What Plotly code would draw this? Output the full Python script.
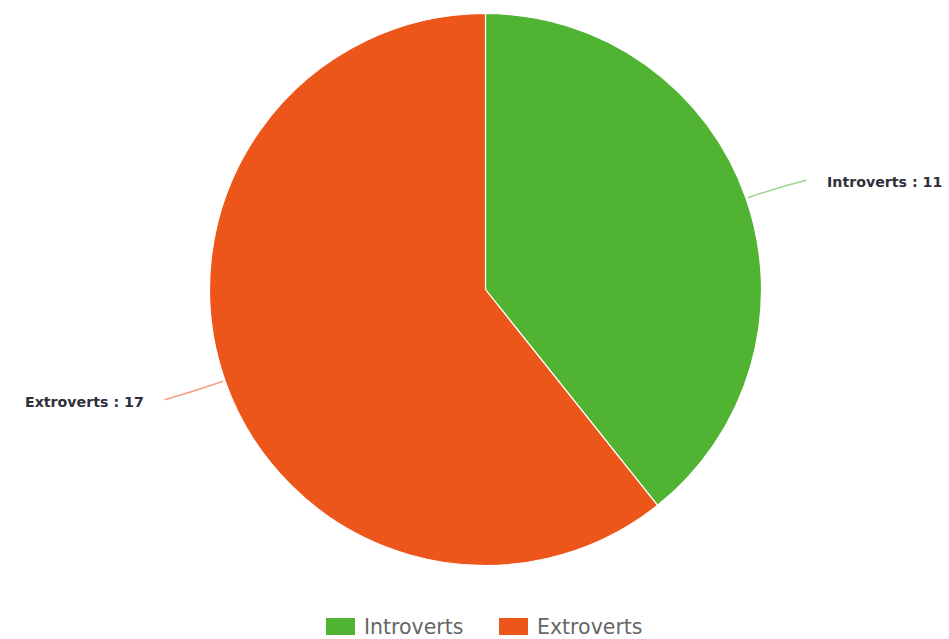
import math
import plotly.graph_objects as go

# Survey result: personality type counts
categories = ["Introverts", "Extroverts"]
counts = [11, 17]
colors = ["#50B432", "#ED561B"]

W, H = 949, 639
CX, CY, R = 485.5, 289.5, 276.0  # pie centre and radius in pixels


def px(x):
    return x / W


def py(y):
    return 1 - y / H


fig = go.Figure(
    go.Pie(
        labels=categories,
        values=counts,
        marker=dict(colors=colors, line=dict(color="white", width=1.2)),
        sort=False,
        direction="clockwise",
        rotation=0,
        textinfo="none",
        hoverinfo="label+value",
        showlegend=False,
        domain=dict(x=[px(CX - R), px(CX + R)], y=[py(CY + R), py(CY - R)]),
    )
)

# Outside data labels with connector lines, placed at each slice's mid-angle
total = sum(counts)
start = 0.0
shapes = []
annotations = []
for name, val, col in zip(categories, counts, colors):
    span = val / total * 360.0
    mid = math.radians(start + span / 2)
    start += span
    sx, sy = math.sin(mid), -math.cos(mid)
    x0, y0 = CX + (R + 2) * sx, CY + (R + 2) * sy
    xm, ym = CX + (R + 33) * sx, CY + (R + 33) * sy
    side = 1 if sx >= 0 else -1
    x1, y1 = CX + (R + 64) * sx, CY + (R + 64) * sy + (3 if sy < 0 else -2)
    shapes.append(dict(
        type="path", xref="paper", yref="paper",
        path=f"M{px(x0)},{py(y0)} Q{px(xm)},{py(ym)} {px(x1)},{py(y1)}",
        line=dict(color=col, width=1.5), opacity=0.55,
    ))
    annotations.append(dict(
        x=px(x1 + side * 19), y=py(y1 + 2), xref="paper", yref="paper",
        text=f"<b>{name} : {val}</b>", showarrow=False,
        xanchor="left" if side > 0 else "right", yanchor="middle",
        font=dict(family="DejaVu Sans", size=14.2, color="#30303c"),
    ))

# Legend drawn below the pie
legend_x = [326, 499]
for name, col, lx in zip(categories, colors, legend_x):
    shapes.append(dict(
        type="rect", xref="paper", yref="paper",
        x0=px(lx), x1=px(lx + 29), y0=py(635), y1=py(618),
        fillcolor=col, line=dict(width=0),
    ))
    annotations.append(dict(
        x=px(lx + 36), y=py(627), xref="paper", yref="paper",
        text=name, showarrow=False, xanchor="left", yanchor="middle",
        font=dict(family="DejaVu Sans", size=20.5, color="#666666"),
    ))

fig.update_layout(
    width=W, height=H,
    margin=dict(l=0, r=0, t=0, b=0),
    paper_bgcolor="white", plot_bgcolor="white",
    shapes=shapes, annotations=annotations,
)

fig.write_html("out.html")
